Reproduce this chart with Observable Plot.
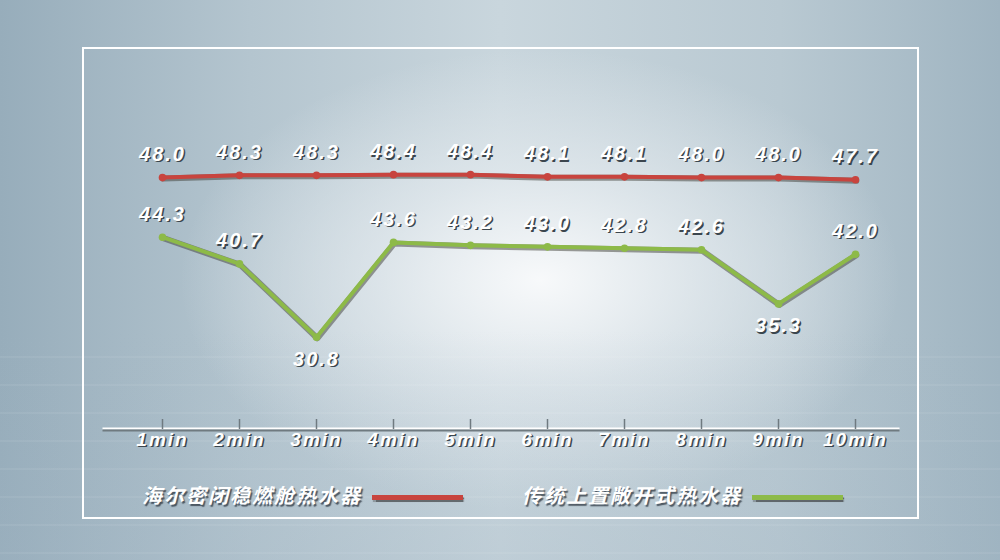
<!DOCTYPE html>
<html>
<head>
<meta charset="utf-8">
<script src="https://cdn.jsdelivr.net/npm/d3@7"></script>
<script src="https://cdn.jsdelivr.net/npm/@observablehq/plot@0.6"></script>
<style>
  html, body { margin: 0; padding: 0; }
  #stage {
    position: relative; width: 1000px; height: 560px; overflow: hidden;
    background:
      radial-gradient(ellipse 48% 55% at 54% 50%, rgba(250,251,252,0.95) 0%, rgba(230,236,240,0.7) 35%, rgba(200,213,221,0) 75%),
      linear-gradient(90deg, #97adbb 0%, #b4c5cf 25%, #c9d6dd 50%, #b9c9d2 78%, #9fb4c1 100%);
  }
  #floor {
    position: absolute; left: 0; top: 330px; width: 1000px; height: 230px;
    background:
      repeating-linear-gradient(180deg, rgba(255,255,255,0) 0px, rgba(255,255,255,0) 26px, rgba(255,255,255,0.12) 27px, rgba(255,255,255,0) 28px),
      linear-gradient(180deg, rgba(255,255,255,0) 0%, rgba(160,180,195,0.25) 100%);
  }
  #frame {
    position: absolute; left: 82px; top: 47px; width: 833px; height: 468px;
    border: 2px solid #ffffff;
  }
  #chart { position: absolute; left: 0; top: 0; }
  #chart svg text { letter-spacing: 2px; }
  #legend {
    position: absolute; left: 0; top: 470px; width: 1000px; height: 48px;
    font-family: "Noto Sans CJK SC", sans-serif; font-weight: 700; font-style: italic;
    font-size: 20px; letter-spacing: 2px; color: #fff;
    text-shadow: 1.5px 1.5px 1px rgba(40,50,60,0.75);
  }
  .item { position: absolute; top: 10px; display: flex; align-items: center; height: 28px; }
  .swatch { width: 91px; height: 5px; margin-left: 10px; margin-top: 6px; box-shadow: 1px 1.5px 1px rgba(40,40,40,0.6); }
</style>
</head>
<body>
<div id="stage">
  <div id="floor"></div>
  <div id="frame"></div>
  <div id="chart"></div>
  <div id="legend"></div>
</div>
<script>
const times = ["1min","2min","3min","4min","5min","6min","7min","8min","9min","10min"];
const haierValues = [48.0,48.3,48.3,48.4,48.4,48.1,48.1,48.0,48.0,47.7];
const traditionalValues = [44.3,40.7,30.8,43.6,43.2,43.0,42.8,42.6,35.3,42.0];
const seriesNames = ["海尔密闭稳燃舱热水器","传统上置敞开式热水器"];
const seriesColors = ["#c8443e","#8dba48"];

function rows(values, name) {
  return values.map((v, i) => ({
    time: times[i], value: v, series: name,
    below: i > 0 && i < values.length - 1 && v < values[i - 1] && v < values[i + 1]
  }));
}
const data = [...rows(haierValues, seriesNames[0]), ...rows(traditionalValues, seriesNames[1])];
const above = data.filter(d => !d.below);
const below = data.filter(d => d.below);

const labelFont = {fontFamily: "Liberation Sans, Arial, sans-serif", fontWeight: "bold", fontStyle: "italic"};
const shadow = "#3b464e";

const chart = Plot.plot({
  width: 1000, height: 470,
  marginLeft: 103, marginRight: 102, marginTop: 48, marginBottom: 41,
  style: {background: "transparent", overflow: "visible"},
  x: {type: "point", domain: times, range: [157.5, 859], padding: 0, axis: null, label: null},
  y: {type: "linear", domain: [28, 44.3, 47.7, 50], range: [357.5, 236.7, 179.3, 162.3], axis: null},
  color: {domain: seriesNames, range: seriesColors},
  marks: [
    Plot.frame({anchor: "bottom", stroke: "#ffffff", strokeWidth: 2, dy: -1}),
    Plot.frame({anchor: "bottom", stroke: "#6f7a80", strokeWidth: 2, dy: 1}),
    Plot.axisX({anchor: "bottom", tickSize: -10, stroke: "#6f7a80", strokeWidth: 1.5, tickFormat: () => "", label: null}),
    Plot.text(times, {x: d => d, frameAnchor: "bottom", dy: 17.5, dx: 1.5, text: d => d, fill: shadow, fontSize: 19, ...labelFont}),
    Plot.text(times, {x: d => d, frameAnchor: "bottom", dy: 16, text: d => d, fill: "#ffffff", fontSize: 19, ...labelFont}),
    Plot.line(data, {x: "time", y: "value", z: "series", stroke: "#3d3d35", strokeWidth: 6, strokeOpacity: 0.5, dx: 0.8, dy: 1}),
    Plot.line(data, {x: "time", y: "value", z: "series", stroke: "series", strokeWidth: 4}),
    Plot.dot(data, {x: "time", y: "value", fill: "series", r: 3.8}),
    Plot.text(above, {x: "time", y: "value", text: d => d.value.toFixed(1), dy: -21.5, dx: 1.5, fill: shadow, fontSize: 20, ...labelFont}),
    Plot.text(above, {x: "time", y: "value", text: d => d.value.toFixed(1), dy: -23, fill: "#ffffff", fontSize: 20, ...labelFont}),
    Plot.text(below, {x: "time", y: "value", text: d => d.value.toFixed(1), dy: 23.5, dx: 1.5, fill: shadow, fontSize: 20, ...labelFont}),
    Plot.text(below, {x: "time", y: "value", text: d => d.value.toFixed(1), dy: 22, fill: "#ffffff", fontSize: 20, ...labelFont})
  ]
});
document.getElementById("chart").appendChild(chart);

const legend = document.getElementById("legend");
const legendLeft = [142, 522];
seriesNames.forEach((name, i) => {
  const item = document.createElement("div");
  item.className = "item";
  item.style.left = legendLeft[i] + "px";
  const label = document.createElement("span");
  label.textContent = name;
  const sw = document.createElement("span");
  sw.className = "swatch";
  sw.style.background = seriesColors[i];
  item.appendChild(label);
  item.appendChild(sw);
  legend.appendChild(item);
});
</script>
</body>
</html>
